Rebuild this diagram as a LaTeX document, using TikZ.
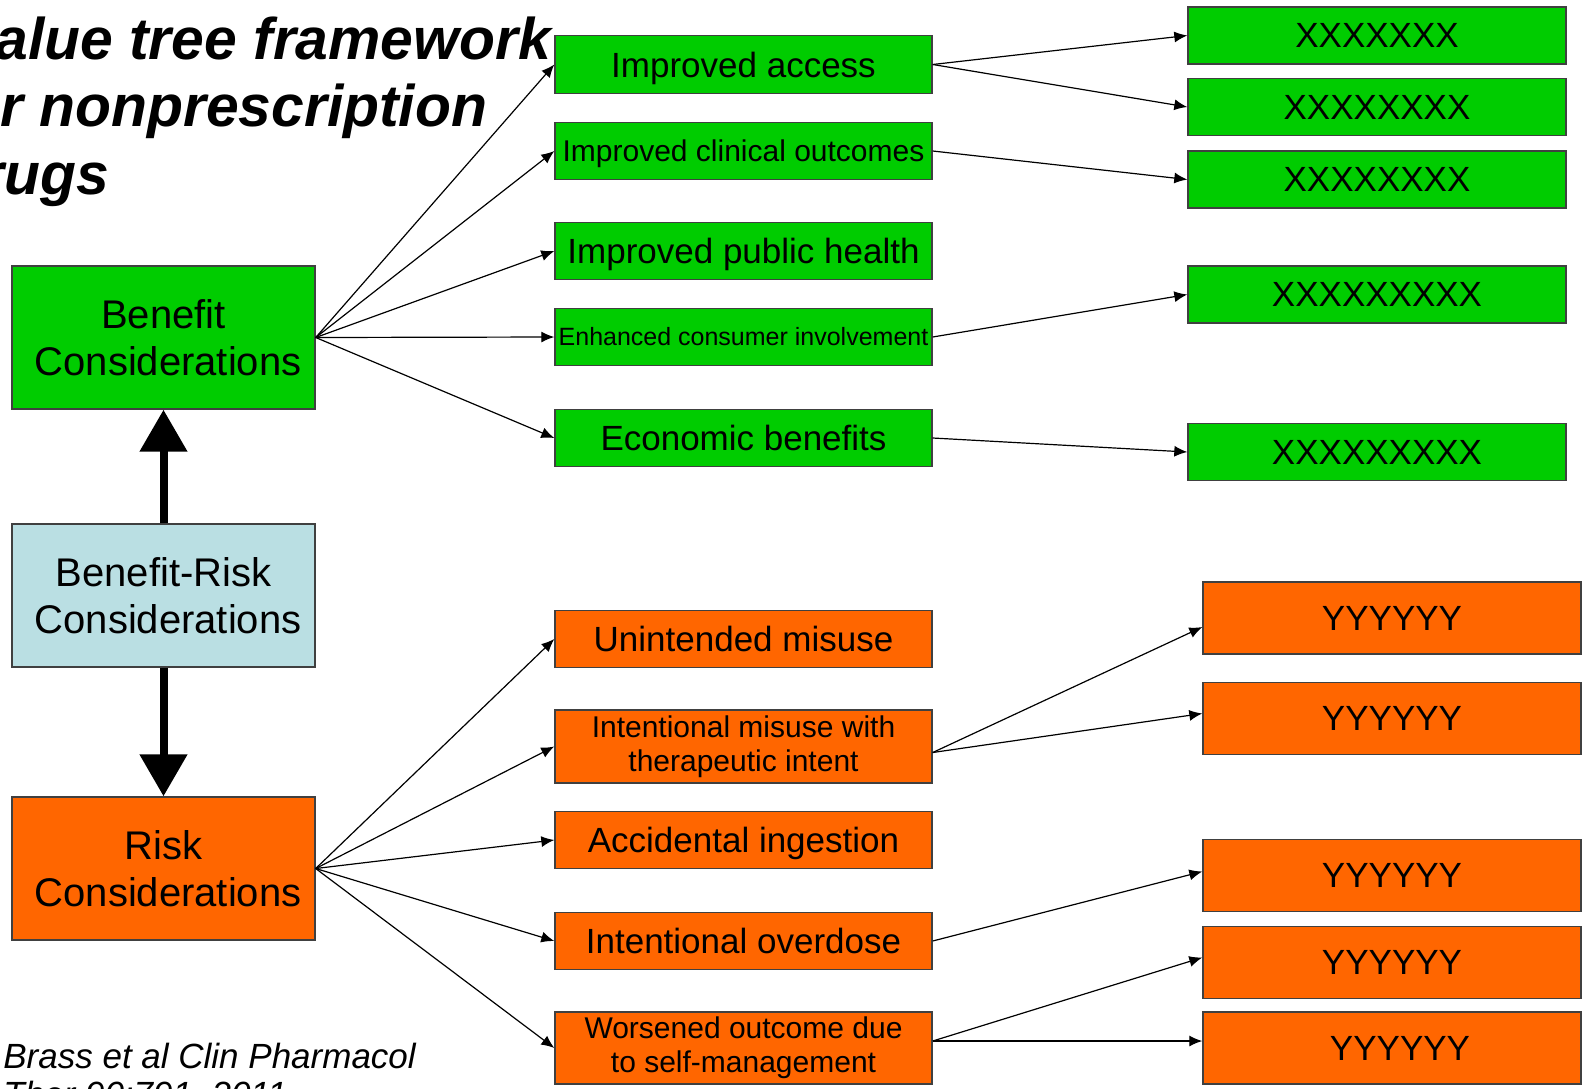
\documentclass[tikz,border=0pt]{standalone}
\usepackage{fontspec}
\setmainfont{Liberation Sans}
\usetikzlibrary{arrows.meta}
\definecolor{bengreen}{RGB}{0,204,0}
\definecolor{riskorange}{RGB}{255,102,0}
\definecolor{brblue}{RGB}{186,223,227}

\tikzset{
  box/.style={draw=black!75, line width=0.7pt, inner sep=0pt, align=center, font=\fontsize{17.5}{17}\selectfont},
  leftbox/.style={box, minimum width=151.5pt, minimum height=71.5pt, font=\fontsize{20}{23.3}\selectfont},
  midbox/.style={box, minimum width=188.5pt, minimum height=28.75pt},
  onerow/.style={text height=16pt, text depth=3.5pt},
  xbox/.style={box, fill=bengreen, minimum width=189pt, minimum height=28.5pt},
  ybox/.style={box, fill=riskorange, minimum width=189pt, minimum height=36pt},
  title/.style={inner sep=0pt, anchor=base west, font=\fontsize{29.4}{34}\selectfont\bfseries\itshape},
  conn/.style={-{Latex[length=6.5pt,width=5.5pt]}, line width=0.6pt},
  bigarrow/.style={-{Triangle[length=21pt,width=23pt]}, line width=4pt},
}

\begin{document}
\begin{tikzpicture}[x=0.5pt,y=-0.5pt]
  \path[use as bounding box, fill=white] (0,0) rectangle (1584,1088);

  % title and reference
  \node[title] (title1) at (-5,59) {alue tree framework};
  \node[title] (title2) at (0,126) {r nonprescription};
  \node[title] (title3) at (-19,194) {rugs};
  \node[inner sep=0pt, anchor=base west, font=\fontsize{17.5}{20}\selectfont\itshape] (ref1) at (3,1068) {Brass et al Clin Pharmacol};
  \node[inner sep=0pt, anchor=base west, font=\fontsize{17.5}{20}\selectfont\itshape] (ref2) at (3,1106) {Ther 90:791, 2011};

  % left column
  \node[leftbox, fill=bengreen] (benefit) at (163.5,337.5) {Benefit\\\hspace*{4.6pt}Considerations};
  \node[leftbox, fill=brblue] (brisk) at (163.5,595.5) {Benefit-Risk\\\hspace*{4.6pt}Considerations};
  \node[leftbox, fill=riskorange] (risk) at (163.5,868.5) {Risk\\\hspace*{4.6pt}Considerations};
  \draw[bigarrow] (brisk.north) -- (benefit.south);
  \draw[bigarrow] (brisk.south) -- (risk.north);

  % benefits
  \node[midbox, onerow, fill=bengreen] (access) at (743.5,64.5) {Improved access};
  \node[midbox, fill=bengreen, text height=13.5pt, text depth=2.8pt, font=\fontsize{15}{17}\selectfont] (clinical) at (743.5,151) {Improved clinical outcomes};
  \node[midbox, onerow, fill=bengreen] (public) at (743.5,251) {Improved public health};
  \node[midbox, fill=bengreen, font=\fontsize{12.5}{15}\selectfont] (consumer) at (743.5,337) {Enhanced consumer involvement};
  \node[midbox, onerow, fill=bengreen] (economic) at (743.5,438) {Economic benefits};

  \node[xbox] (x1) at (1377,35.5) {XXXXXXX};
  \node[xbox] (x2) at (1377,107) {XXXXXXXX};
  \node[xbox] (x3) at (1377,179.5) {XXXXXXXX};
  \node[xbox] (x4) at (1377,294.5) {XXXXXXXXX};
  \node[xbox] (x5) at (1377,452) {XXXXXXXXX};

  % risks
  \node[midbox, onerow, fill=riskorange] (misuse) at (743.5,639) {Unintended misuse};
  \node[midbox, fill=riskorange, minimum height=36.5pt, font=\fontsize{15}{17}\selectfont] (intent) at (743.5,746.5) {Intentional misuse with\\therapeutic intent};
  \node[midbox, onerow, fill=riskorange] (ingest) at (743.5,840) {Accidental ingestion};
  \node[midbox, onerow, fill=riskorange] (overdose) at (743.5,941) {Intentional overdose};
  \node[midbox, fill=riskorange, minimum height=36pt, font=\fontsize{15}{17}\selectfont] (worse) at (743.5,1048) {Worsened outcome due\\to self-management};

  \node[ybox] (y1) at (1392,618) {YYYYYY};
  \node[ybox] (y2) at (1392,718.5) {YYYYYY};
  \node[ybox] (y3) at (1392,875.5) {YYYYYY};
  \node[ybox] (y4) at (1392,962.5) {YYYYYY};
  \node[ybox] (y5) at (1392,1048) {\hspace{8pt}YYYYYY};

  % connectors
  \foreach \t in {access,clinical,public,consumer,economic}
    \draw[conn] (benefit.east) -- (\t.west);
  \foreach \t in {misuse,intent,ingest,overdose,worse}
    \draw[conn] (risk.east) -- (\t.west);

  \draw[conn] (access.east) -- (x1.west);
  \draw[conn] (access.east) -- (x2.west);
  \draw[conn] (clinical.east) -- (x3.west);
  \draw[conn] (consumer.east) -- (x4.west);
  \draw[conn] (economic.east) -- (x5.west);

  \draw[conn] ([yshift=-3pt]intent.east) -- ([yshift=-4.5pt]y1.west);
  \draw[conn] ([yshift=-3pt]intent.east) -- ([yshift=2.5pt]y2.west);
  \draw[conn] (overdose.east) -- ([yshift=2pt]y3.west);
  \draw[conn] ([yshift=3.5pt]worse.east) -- ([yshift=2.5pt]y4.west);
  \draw[conn] ([yshift=3.5pt]worse.east) -- ([yshift=3.5pt]y5.west);
\end{tikzpicture}
\end{document}
